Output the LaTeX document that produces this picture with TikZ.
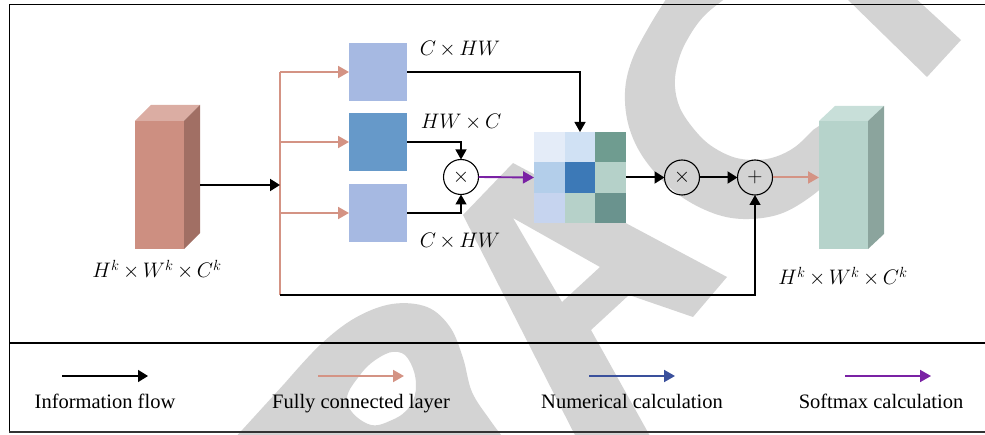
\RequirePackage{fix-cm}
\documentclass[tikz,border=0pt]{standalone}
\usepackage{fontspec}
\setmainfont{Liberation Serif}
\usetikzlibrary{arrows.meta}
\definecolor{wm}{RGB}{211,211,211}
\definecolor{pinkc}{RGB}{212,147,132}
\definecolor{purp}{RGB}{122,34,164}
\definecolor{navy}{RGB}{58,80,156}
\definecolor{boxlight}{RGB}{166,185,226}
\definecolor{boxdark}{RGB}{102,153,201}
\definecolor{cubfront}{RGB}{205,143,129}
\definecolor{cubtop}{RGB}{219,173,163}
\definecolor{cubside}{RGB}{161,111,100}
\definecolor{gfront}{RGB}{182,211,203}
\definecolor{gtop}{RGB}{200,223,217}
\definecolor{gside}{RGB}{139,164,157}
\definecolor{ma}{RGB}{228,236,248}
\definecolor{mb}{RGB}{208,225,244}
\definecolor{mc}{RGB}{111,156,144}
\definecolor{md}{RGB}{179,206,234}
\definecolor{me}{RGB}{60,121,183}
\definecolor{mf}{RGB}{181,209,201}
\definecolor{mg}{RGB}{198,212,239}
\definecolor{mh}{RGB}{182,209,201}
\definecolor{mi}{RGB}{106,147,142}
\newcommand{\tm}{\,{\times}\,}
\tikzset{
  lab/.style={font=\fontsize{21}{25}\selectfont, anchor=base},
  leg/.style={font=\fontsize{20.5}{24}\selectfont, anchor=base},
  opc/.style={circle, draw=black, line width=1.1pt, minimum size=35pt, font=\fontsize{21}{24}\selectfont},
  fcbox/.style={minimum width=58pt, minimum height=58pt},
  thinar/.style={draw=black, line width=1.3pt, -{Triangle[length=10pt,width=11pt]}},
  blkar/.style={draw=black, line width=2pt, -{Triangle[length=10pt,width=12pt]}},
  pinkar/.style={draw=pinkc, line width=2pt, -{Triangle[length=11pt,width=12pt]}},
  purar/.style={draw=purp, line width=1.9pt, -{Triangle[length=11pt,width=12pt]}},
  navyar/.style={draw=navy, line width=1.9pt, -{Triangle[length=11pt,width=12pt]}},
}
\begin{document}
\begin{tikzpicture}[x=1pt,y=-1pt, every node/.style={inner sep=0pt, outer sep=0pt}]
\useasboundingbox (0,0) rectangle (985,435);
% watermark
\begin{scope}
\clip (0,0) rectangle (985,435);
\fill[wm] plot[smooth, tension=0.6] coordinates {(672,-10) (650,25) (632,60) (625,92) (629,127) (645,160) (675,192) (710,212) (743,219) (780,214) (813,195) (840,170)}
  -- (835,115) --
  plot[smooth, tension=0.6] coordinates {(813,130) (795,147) (775,157) (755,160) (733,157) (710,145) (693,128) (680,108) (675,87) (677,66) (686,42) (705,15) (737,-10)} -- cycle;
\fill[wm] (843,-5) -- (927,77) -- (961,40) -- (912,-5) -- cycle;
\fill[wm, even odd rule] (463,215) -- (513,163) -- (727,277) -- (693,317) -- (629,295) -- (591,330) -- (655,445) -- (580,445) -- cycle
  (513,218) -- (600,267) -- (562,302) -- cycle;
\fill[wm, even odd rule] (233,440) -- (285,383) -- plot[smooth, tension=0.6] coordinates {(285,383) (320,345) (355,318) (392,304) (427,307) (450,327) (463,358) (472,392) (490,420) (505,440)} -- cycle
  plot[smooth cycle, tension=0.7] coordinates {(347,402) (360,375) (380,357) (398,352) (410,362) (416,385) (410,406) (392,420) (368,424)};
\end{scope}
% frame
\draw[line width=1pt] (986,5) -- (9,5) -- (9,432);
\draw[line width=1.5pt, black!80] (9,432) -- (986,432);
\draw[line width=1.3pt] (9,343) -- (986,343);
% left cuboid
\node[fill=cubfront, minimum width=49pt, minimum height=128pt] (cub1) at (159.5,185) {};
\fill[cubtop] (cub1.north west) -- ++(16,-16) -- ++(49,0) -- (cub1.north east) -- cycle;
\fill[cubside] (cub1.north east) -- ++(16,-16) -- ++(0,128) -- (cub1.south east) -- cycle;
\node[lab] (lab1) at (157,278) {$H^k\tm W^k\tm C^k$};
% right cuboid
\node[fill=gfront, minimum width=49pt, minimum height=128pt] (cub2) at (843.5,185) {};
\fill[gtop] (cub2.north west) -- ++(16,-15) -- ++(49,0) -- (cub2.north east) -- cycle;
\fill[gside] (cub2.north east) -- ++(16,-15) -- ++(0,128) -- (cub2.south east) -- cycle;
\node[lab] (lab2) at (843,285) {$H^k\tm W^k\tm C^k$};
% boxes
\node[fcbox, fill=boxlight] (b1) at (378,72) {};
\node[fcbox, fill=boxdark] (b2) at (378,142) {};
\node[fcbox, fill=boxlight] (b3) at (378,213) {};
\node[lab] (t1) at (460,56) {$C\tm HW$};
\node[lab] (t2) at (461,129) {$HW\tm C$};
\node[lab] (t3) at (460,248) {$C\tm HW$};
% matrix
\node[minimum width=92pt, minimum height=91pt] (mat) at (580,177.5) {};
\fill[ma] (534,132) rectangle (565,162);
\fill[mb] (565,132) rectangle (595,162);
\fill[mc] (595,132) rectangle (626,162);
\fill[md] (534,162) rectangle (565,193);
\fill[me] (565,162) rectangle (595,193);
\fill[mf] (595,162) rectangle (626,193);
\fill[mg] (534,193) rectangle (565,223);
\fill[mh] (565,193) rectangle (595,223);
\fill[mi] (595,193) rectangle (626,223);
% operators
\node[opc] (c1) at (461,177) {$\times$};
\node[opc] (c2) at (682,177.5) {$\times$};
\node[opc] (c3) at (755,177.5) {$+$};
% bracket
\coordinate (bt) at (280,72);
\coordinate (bb) at (280,295);
\coordinate (bm) at (280,185);
\draw[pinkc, line width=1.5pt] (bt) -- (bb);
\draw[pinkar] (bt) -- (b1.west);
\draw[pinkar] (bt |- b2.west) -- (b2.west);
\draw[pinkar] (bt |- b3.west) -- (b3.west);
\draw[blkar] ([xshift=16pt]cub1.east) -- (bm);
% connectors
\draw[thinar] (b1.east) -| (mat.north);
\draw[thinar] (b2.east) -| (c1.north);
\draw[thinar] (b3.east) -| (c1.south);
\draw[purar] (c1.east) -- (mat.west);
\draw[blkar] (mat.east) -- (c2.west);
\draw[blkar] (c2.east) -- (c3.west);
\draw[pinkar] (c3.east) -- (c3.east -| cub2.west);
\draw[thinar] (bb) -| (c3.south);
% legend
\coordinate (l1s) at (62,376); \coordinate (l1e) at (148,376);
\coordinate (l2s) at (318,376); \coordinate (l2e) at (404,376);
\coordinate (l3s) at (589,376); \coordinate (l3e) at (675,376);
\coordinate (l4s) at (845,376); \coordinate (l4e) at (931,376);
\draw[blkar, line width=1.6pt] (l1s) -- (l1e);
\draw[pinkar] (l2s) -- (l2e);
\draw[navyar] (l3s) -- (l3e);
\draw[purar] (l4s) -- (l4e);
\node[leg] (g1) at (105,408) {Information flow};
\node[leg] (g2) at (361,408) {Fully connected layer};
\node[leg] (g3) at (632,408) {Numerical calculation};
\node[leg] (g4) at (881,408) {Softmax calculation};
\end{tikzpicture}
\end{document}
